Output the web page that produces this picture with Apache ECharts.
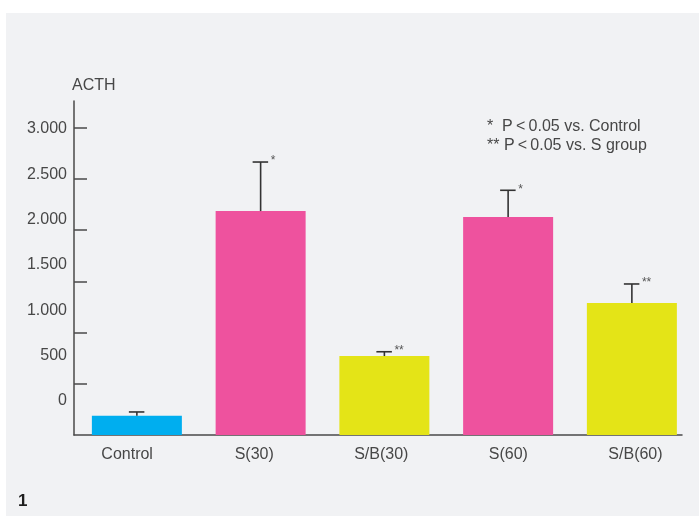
<!DOCTYPE html>
<html>
<head>
<meta charset="utf-8">
<script src="https://cdn.jsdelivr.net/npm/echarts@6/dist/echarts.min.js"></script>
<style>
  html, body { margin: 0; padding: 0; background: #ffffff; }
  #panel { position: absolute; left: 6px; top: 13px; width: 693px; height: 503px; background: #f1f2f4; }
  #chart { position: absolute; left: 0; top: 0; width: 699px; height: 516px; }
</style>
</head>
<body>
<div id="panel"></div>
<div id="chart"></div>
<script>
// ---- data ----
const categories = ['Control', 'S(30)', 'S/B(30)', 'S(60)', 'S/B(60)'];
const acthMeans = [188, 2187, 771, 2129, 1289];
const acthErrorTops = [225, 2666, 813, 2390, 1475];
const significance = ['', '*', '**', '*', '**'];
const yTickValues = [500, 1000, 1500, 2000, 2500, 3000];
const yLabelValues = [0, 500, 1000, 1500, 2000, 2500, 3000];
const legendLines = ['*  P\u2009<\u20090.05 vs. Control', '** P\u2009<\u20090.05 vs. S group'];
const figureNumber = '1';

// ---- styles ----
const barColors = ['#00aeef', '#ee529e', '#e4e417', '#ee529e', '#e4e417'];
const FONT = '"Liberation Sans", Arial, sans-serif';
const TEXT = '#474747';
const AXIS = '#4a4a4a';

const chart = echarts.init(document.getElementById('chart'), null, { renderer: 'canvas' });

function fmt(v) {
  return v >= 1000 ? (Math.floor(v / 1000) + '.' + String(v % 1000).padStart(3, '0')) : String(v);
}

const option = {
  backgroundColor: 'transparent',
  animation: false,
  grid: [
    { left: 75, width: 618.75, top: 101, bottom: 81 },   // bars
    { left: 63.6, width: 643.75, top: 101, bottom: 81 }, // category labels
    { left: 74, width: 608, top: 101, bottom: 81 }       // x axis line
  ],
  xAxis: [
    { type: 'category', gridIndex: 0, data: categories, axisLine: { show: false }, axisTick: { show: false }, axisLabel: { show: false } },
    { type: 'category', gridIndex: 1, data: categories, axisLine: { show: false }, axisTick: { show: false },
      axisLabel: { show: true, margin: 12, fontSize: 16, fontFamily: FONT, color: TEXT } },
    { type: 'value', gridIndex: 2, min: 0, max: 1, axisLine: { show: true, lineStyle: { color: AXIS, width: 1.5 } },
      axisTick: { show: false }, axisLabel: { show: false }, splitLine: { show: false } }
  ],
  yAxis: [
    { type: 'value', gridIndex: 2, min: 0, max: 3262, position: 'left',
      name: 'ACTH', nameLocation: 'end', nameGap: 15,
      nameTextStyle: { fontSize: 16, fontFamily: FONT, color: TEXT, align: 'left', verticalAlign: 'middle', padding: [0, 0, 0, -2] },
      axisLine: { show: true, lineStyle: { color: AXIS, width: 1.5 } },
      axisTick: { show: true, inside: true, length: 13, customValues: yTickValues, lineStyle: { color: AXIS, width: 1.5 } },
      axisLabel: { show: false }, splitLine: { show: false } },
    { type: 'value', gridIndex: 2, min: -375, max: 3309, position: 'left',
      axisLine: { show: false }, axisTick: { show: false }, splitLine: { show: false },
      axisLabel: { show: true, margin: 7, fontSize: 16, fontFamily: FONT, color: TEXT,
        customValues: yLabelValues, formatter: fmt } },
    { type: 'value', gridIndex: 1, show: false },
    { type: 'value', gridIndex: 0, min: 0, max: 3262, show: false }
  ],
  graphic: [
    { type: 'text', left: 487, top: 117, style: { text: legendLines.join('\n'), font: '16px ' + FONT, fill: TEXT, lineHeight: 19 } },
    { type: 'text', left: 18, top: 493, style: { text: figureNumber, font: 'bold 17px ' + FONT, fill: '#1e1e1e' } }
  ],
  series: [
    {
      type: 'bar', xAxisIndex: 0, yAxisIndex: 3, barWidth: 90, z: 2,
      data: acthMeans.map((v, i) => ({ value: v, itemStyle: { color: barColors[i] } }))
    },
    {
      type: 'custom', xAxisIndex: 0, yAxisIndex: 3, z: 3,
      data: categories.map((c, i) => [i, acthMeans[i], acthErrorTops[i]]),
      renderItem: function (params, api) {
        const i = api.value(0);
        const base = api.coord([i, api.value(1)]);
        const top = api.coord([i, api.value(2)]);
        const ls = { stroke: '#333333', lineWidth: 1.6 };
        return {
          type: 'group',
          children: [
            { type: 'line', shape: { x1: base[0], y1: base[1], x2: top[0], y2: top[1] }, style: ls },
            { type: 'line', shape: { x1: top[0] - 8, y1: top[1], x2: top[0] + 7.5, y2: top[1] }, style: ls },
            { type: 'text', style: { text: significance[i], x: top[0] + 10, y: top[1] - 1,
              font: '12px ' + FONT, fill: '#555555', align: 'left', verticalAlign: 'middle' } }
          ]
        };
      }
    }
  ]
};
chart.setOption(option);
</script>
</body>
</html>
